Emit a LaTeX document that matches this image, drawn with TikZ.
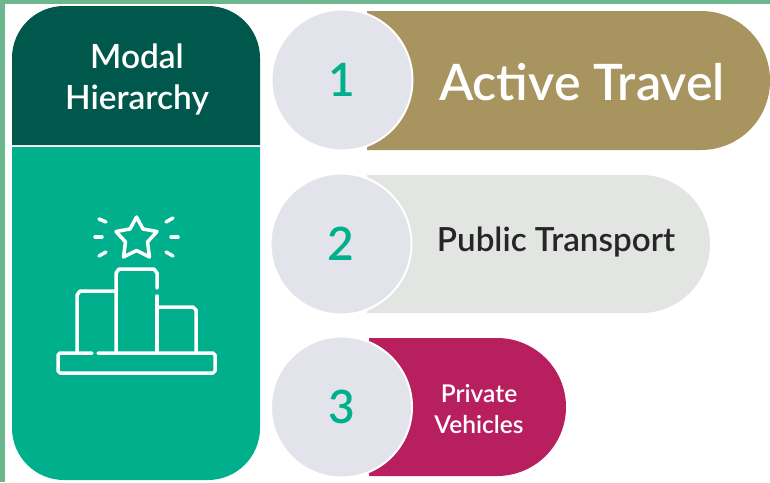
\documentclass[tikz,border=0pt]{standalone}
\usepackage{fontspec}
\setmainfont{Lato}[BoldFont={Lato Semibold}]
\usetikzlibrary{calc}
\definecolor{edgegreen}{HTML}{6DB78F}
\definecolor{darkteal}{HTML}{00584D}
\definecolor{teal}{HTML}{00B08C}
\definecolor{gold}{HTML}{A8945F}
\definecolor{palegrey}{HTML}{E3E5E3}
\definecolor{crimson}{HTML}{B81F5F}
\definecolor{discgrey}{HTML}{E3E3EB}
\tikzset{
  x=1pt,y=-1pt,
  disc/.style={circle,fill=discgrey,draw=white,line width=2pt,minimum size=141pt,inner sep=0pt,text=teal,font=\fontsize{46}{46}\selectfont\bfseries},
  title/.style={text=white,align=center,inner sep=0pt},
  icon/.style={draw=white,line width=3.5pt,line join=round,line cap=round},
}
\begin{document}
\begin{tikzpicture}
\useasboundingbox (0,0) rectangle (770,482);
\fill[white] (0,0) rectangle (770,482);
\fill[edgegreen] (0,0) rectangle (770,4);
\fill[edgegreen] (0,0) rectangle (5,482);
% left panel
\fill[darkteal] (12,145) [rounded corners=52pt] -- (12,6) -- (260,6) [sharp corners] -- (260,145) -- cycle;
\fill[teal] (12,147) [rounded corners=52pt] -- (12,480) -- (260,480) [sharp corners] -- (260,147) -- cycle;
\node[title,font=\fontsize{33.4}{41}\selectfont\bfseries] (head) at (137,79) {Modal\\Hierarchy};
% pills
\fill[gold] (367,11) [rounded corners=69pt] -- (770,11) -- (770,150) [sharp corners] -- (367,150) -- cycle;
\fill[palegrey] (367,175) [rounded corners=69pt] -- (710,175) -- (710,313) [sharp corners] -- (367,313) -- cycle;
\fill[crimson] (369,338) [rounded corners=69pt] -- (566,338) -- (566,476) [sharp corners] -- (369,476) -- cycle;
\node[disc] (one) at (342,80) {1};
\node[disc] (two) at (341,244) {2};
\node[disc] (three) at (341.5,407) {3};
\node[title,font=\fontsize{50.2}{50.2}\selectfont\bfseries] (active) at (582,82) {Active Travel};
\node[inner sep=0pt,text=black!85,font=\fontsize{33.2}{33.2}\selectfont\bfseries] (public) at (556,242) {Public Transport};
\node[title,font=\fontsize{24.5}{31}\selectfont\bfseries] (private) at (479,409) {Private\\Vehicles};
% icon
\draw[icon] (77,353) -- (77,295) -- (80,291) -- (116,291);
\draw[icon] (116,353) -- (116,273) -- (119,269) -- (154,269) -- (157,273) -- (157,288);
\draw[icon] (157,296) -- (157,353);
\draw[icon] (157,307) -- (193,307) -- (196,310) -- (196,353);
\draw[icon] (92,353) -- (60,353) -- (58,355) -- (58,371) -- (60,373) -- (213,373) -- (215,371) -- (215,355) -- (213,353) -- (98,353);
\draw[icon] (136.5,217) -- (143,229) -- (157,231.5) -- (147.5,242) -- (149.5,257) -- (136.5,250.5) -- (123.5,257) -- (125.5,242) -- (116,231.5) -- (130,229) -- cycle;
\draw[icon] (99,219) -- (106,222);
\draw[icon] (95,237) -- (102,237);
\draw[icon] (99,256) -- (106,252);
\draw[icon] (166,222) -- (173,218);
\draw[icon] (171,237) -- (178,237);
\draw[icon] (166,252) -- (173,256);
\end{tikzpicture}
\end{document}
